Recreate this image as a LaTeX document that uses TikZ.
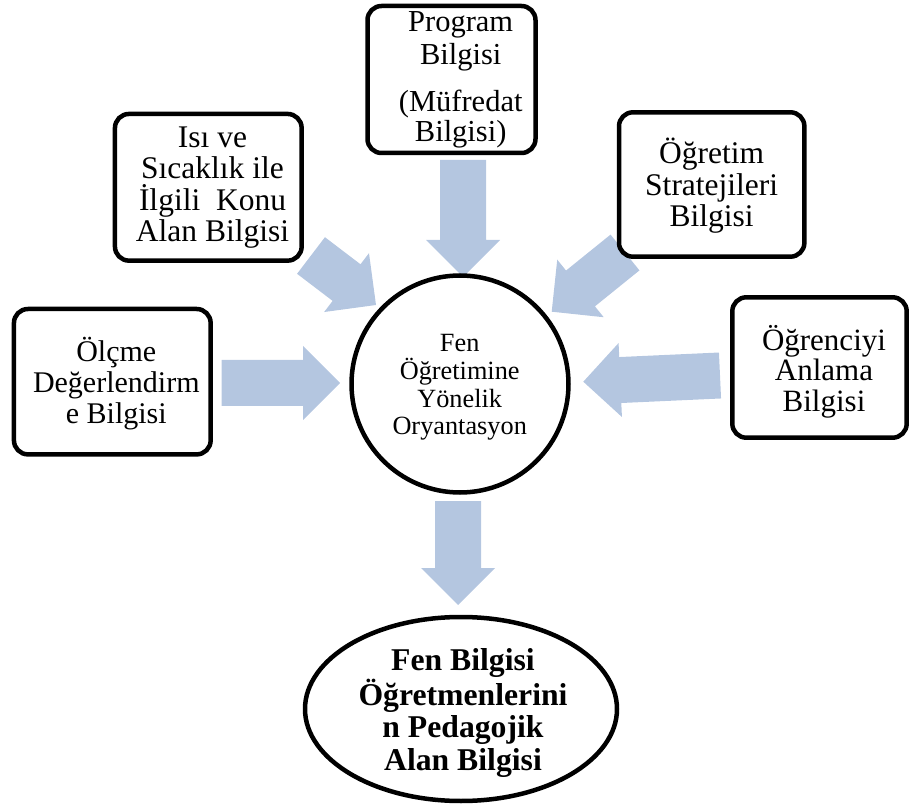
\documentclass[tikz,border=0pt]{standalone}
\usepackage{fontspec}
\setmainfont{Liberation Serif}
\usetikzlibrary{calc,shapes.geometric}
\definecolor{arrowblue}{RGB}{180,198,224}

\tikzset{
  infobox/.style={draw=black, line width=4.5pt, rounded corners=14pt, fill=white, inner sep=0pt},
  hub/.style={draw=black, line width=4.5pt, circle, fill=white, inner sep=0pt, minimum size=217pt},
  result/.style={draw=black, line width=4.5pt, ellipse, fill=white, inner sep=0pt,
                 minimum width=312pt, minimum height=184pt},
  % text blocks are anchored at the baseline of their last line
  boxtext/.style={inner sep=0pt, align=center, anchor=base,
                  font=\fontsize{31.5pt}{31.4pt}\selectfont},
  hubtext/.style={inner sep=0pt, align=center, anchor=base,
                  font=\fontsize{26.3pt}{27.8pt}\selectfont},
  resulttext/.style={inner sep=0pt, align=center, anchor=base,
                     font=\fontsize{31.7pt}{32.4pt}\selectfont\bfseries},
}

% broad block arrow from a tail point to a tip point
\newcommand\fatarrow[2]{%
  \coordinate (fa-head) at ($(#2)!37pt!(#1)$);
  \fill[arrowblue]
    ($(#1)!23pt!90:(#2)$) -- ($(fa-head)!23pt!90:(#2)$) -- ($(fa-head)!37pt!90:(#2)$)
    -- (#2)
    -- ($(fa-head)!37pt!-90:(#2)$) -- ($(fa-head)!23pt!-90:(#2)$) -- ($(#1)!23pt!-90:(#2)$)
    -- cycle;
}

\begin{document}
\begin{tikzpicture}[x=1pt, y=-1pt]
  \useasboundingbox (0,0) rectangle (911,810);

  % arrow end points
  \coordinate (t-prog) at (463,160);  \coordinate (h-prog) at (463,277);
  \coordinate (t-isi)  at (311,255.5); \coordinate (h-isi) at (376,305);
  \coordinate (t-str)  at (625,252.5); \coordinate (h-str) at (551.7,311.7);
  \coordinate (t-olc)  at (221.7,383); \coordinate (h-olc) at (340,383);
  \coordinate (t-ogr)  at (720,375.5); \coordinate (h-ogr) at (583.3,381.7);
  \coordinate (t-out)  at (458,501);   \coordinate (h-out) at (458,605);

  \fatarrow{t-prog}{h-prog}
  \fatarrow{t-isi}{h-isi}
  \fatarrow{t-str}{h-str}
  \fatarrow{t-olc}{h-olc}
  \fatarrow{t-ogr}{h-ogr}
  \fatarrow{t-out}{h-out}

  % knowledge boxes
  \node[infobox, minimum width=168pt, minimum height=147pt] (prog) at (451.5,79.5) {};
  \node[infobox, minimum width=186.7pt, minimum height=146.7pt] (isi) at (208.3,187.3) {};
  \node[infobox, minimum width=185.4pt, minimum height=144.4pt] (str) at (711.7,184.5) {};
  \node[infobox, minimum width=196.7pt, minimum height=145.4pt] (olc) at (112.3,381.7) {};
  \node[infobox, minimum width=174.4pt, minimum height=140.4pt] (ogr) at (819.5,367.5) {};

  \node[boxtext, font=\fontsize{30.5pt}{33.3pt}\selectfont] (prog-t) at (460.7,141.7)
    {Program\\Bilgisi\\[13.4pt](Müfredat\\[-3.3pt]Bilgisi)};
  \node[boxtext] (isi-t) at (212.5,241.7) {Isı ve\\Sıcaklık ile\\İlgili\ \ Konu\\Alan Bilgisi};
  \node[boxtext] (str-t) at (711.7,226.7) {Öğretim\\Stratejileri\\Bilgisi};
  \node[boxtext, font=\fontsize{30pt}{30.8pt}\selectfont] (olc-t) at (116.3,423.3)
    {Ölçme\\Değerlendirm\\e Bilgisi};
  \node[boxtext, font=\fontsize{31pt}{30.8pt}\selectfont] (ogr-t) at (824,411.7)
    {Öğrenciyi\\Anlama\\Bilgisi};

  % central orientation
  \node[hub] (hub) at (460,384) {};
  \node[hubtext] (hub-t) at (459.7,435) {Fen\\Öğretimine\\Yönelik\\Oryantasyon};

  % outcome
  \node[result] (pak) at (461,709) {};
  \node[resulttext] (pak-t) at (463,770)
    {Fen Bilgisi\\Öğretmenlerini\\n Pedagojik\\Alan Bilgisi};
\end{tikzpicture}
\end{document}
